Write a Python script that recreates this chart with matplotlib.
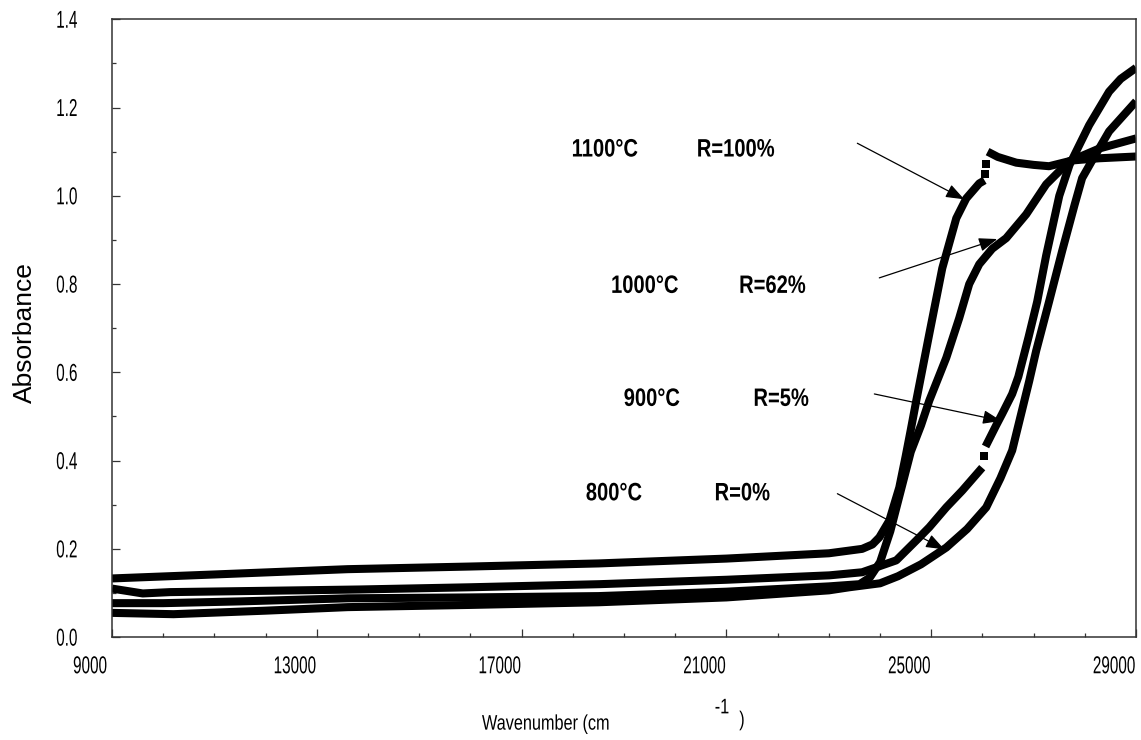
import matplotlib

matplotlib.use("Agg")
import matplotlib.pyplot as plt
from matplotlib import patheffects
from matplotlib.ticker import MultipleLocator
from matplotlib.transforms import Affine2D, ScaledTranslation

NARROW = ["Liberation Sans Narrow", "Liberation Sans", "DejaVu Sans"]
REGULAR = ["Liberation Sans", "DejaVu Sans"]

# 1100°C (R=100%): lower branch, dotted step, upper branch
WN_1100 = [9000, 11000, 13600, 16000, 18500, 21000, 23000, 23650, 23850, 23985,
           24180, 24375, 24500, 24600, 24707, 24961, 25215, 25488, 25683, 25937,
           26040]
ABS_1100 = [0.133, 0.142, 0.154, 0.160, 0.167, 0.178, 0.190, 0.200, 0.210, 0.226,
            0.264, 0.339, 0.410, 0.470, 0.536, 0.687, 0.836, 0.949, 0.994, 1.028,
            1.035]
WN_1100_STEP = [26055, 26075]
ABS_1100_STEP = [1.050, 1.072]
WN_1100_HI = [26100, 26300, 26660, 27000, 27300, 27750, 28280, 29000]
ABS_1100_HI = [1.100, 1.088, 1.075, 1.070, 1.067, 1.080, 1.085, 1.089]

# 1000°C (R=62%)
WN_1000 = [9000, 10000, 11500, 13600, 16000, 18500, 21000, 23000, 23600, 23800,
           24000, 24200, 24400, 24600, 24800, 24961, 25293, 25546, 25741, 25937,
           26190, 26463, 26854, 27244, 27693, 28278, 29000]
ABS_1000 = [0.077, 0.077, 0.081, 0.088, 0.090, 0.093, 0.103, 0.115, 0.120, 0.135,
            0.170, 0.240, 0.330, 0.420, 0.480, 0.536, 0.633, 0.723, 0.800, 0.845,
            0.880, 0.904, 0.958, 1.026, 1.078, 1.107, 1.130]

# 900°C (R=5%): lower branch, dotted step, upper branch
WN_900 = [9000, 9600, 10130, 12000, 13840, 16000, 18522, 21000, 23010, 23650,
          24317, 24707, 24961, 25293, 25605, 25995]
ABS_900 = [0.110, 0.099, 0.102, 0.105, 0.108, 0.113, 0.120, 0.130, 0.140, 0.147,
           0.174, 0.219, 0.249, 0.294, 0.332, 0.384]
WN_900_STEP = [26025]
ABS_900_STEP = [0.410]
WN_900_HI = [26060, 26268, 26385, 26580, 26700, 26900, 27068, 27244, 27500, 27700,
             28083, 28473, 28700, 29000]
ABS_900_HI = [0.432, 0.480, 0.506, 0.551, 0.590, 0.680, 0.760, 0.865, 1.000, 1.070,
              1.160, 1.236, 1.265, 1.290]

# 800°C (R=0%)
WN_800 = [9000, 10200, 12000, 13600, 16000, 18500, 21000, 23000, 23400, 24000,
          24350, 24800, 25293, 25700, 26073, 26350, 26580, 26912, 27049, 27300,
          27556, 27800, 27946, 28142, 28473, 29000]
ABS_800 = [0.055, 0.052, 0.060, 0.068, 0.073, 0.079, 0.090, 0.106, 0.113, 0.122,
           0.138, 0.165, 0.203, 0.245, 0.294, 0.360, 0.423, 0.580, 0.649, 0.760,
           0.875, 0.980, 1.040, 1.080, 1.146, 1.214]

# label text, label positions and arrow (tail, head)
TEMPS = ["1100°C", "1000°C", "900°C", "800°C"]
RATIOS = ["R=100%", "R=62%", "R=5%", "R=0%"]
TEMP_X = [18620, 19400, 19540, 18800]
RATIO_X = [21180, 21900, 22070, 21310]
LABEL_Y = [1.089, 0.780, 0.524, 0.310]
ARROW_FROM = [(23556, 1.119), (23985, 0.814), (23888, 0.551), (23166, 0.325)]
ARROW_TO = [(25644, 0.992), (26288, 0.902), (26366, 0.490), (25254, 0.199)]


class Stretch(patheffects.AbstractPathEffect):
    """Stretch text glyphs vertically about their baseline origin."""

    def __init__(self, sy):
        super().__init__()
        self.sy = sy

    def draw_path(self, renderer, gc, tpath, affine, rgbFace=None):
        ox, oy = affine.transform((0, 0))
        aff = affine + Affine2D().translate(-ox, -oy).scale(1, self.sy).translate(ox, oy)
        renderer.draw_path(gc, tpath, aff, rgbFace)


fig = plt.figure(figsize=(11.41, 7.40), dpi=100)
ax = fig.add_axes([0.0982, 0.139, 0.8975, 0.835])

kw = dict(color="black", lw=5.8, solid_capstyle="butt", solid_joinstyle="round")
ax.plot(WN_1100, ABS_1100, **kw)
ax.plot(WN_1100_HI, ABS_1100_HI, **kw)
ax.plot(WN_1100_STEP, ABS_1100_STEP, "s", color="black", ms=5.5, mew=0)
ax.plot(WN_1000, ABS_1000, **kw)
ax.plot(WN_900, ABS_900, **kw)
ax.plot(WN_900_HI, ABS_900_HI, **kw)
ax.plot(WN_900_STEP, ABS_900_STEP, "s", color="black", ms=5.5, mew=0)
ax.plot(WN_800, ABS_800, **kw)

ax.set_xlim(9000, 29000)
ax.set_ylim(0, 1.4)
ax.xaxis.set_major_locator(MultipleLocator(4000))
ax.xaxis.set_minor_locator(MultipleLocator(1000))
ax.yaxis.set_major_locator(MultipleLocator(0.2))
ax.yaxis.set_minor_locator(MultipleLocator(0.1))
ax.set_xticks(range(9000, 29001, 4000))
ax.set_xticklabels([str(v) for v in range(9000, 29001, 4000)])
ax.set_yticks([i * 0.2 for i in range(8)])
ax.set_yticklabels([f"{i * 0.2:.1f}" for i in range(8)])

for side in ax.spines.values():
    side.set_color("#333333")
    side.set_linewidth(1.1)
ax.tick_params(which="both", direction="in", color="#333333", width=0.9)
ax.tick_params(which="major", length=5.8)
ax.tick_params(which="minor", length=2.9)
ax.tick_params(axis="x", pad=26)
ax.tick_params(axis="y", pad=25)

stretch = [Stretch(1.6)]
x_shift = ScaledTranslation(-0.22, 0, fig.dpi_scale_trans)
y_shift = ScaledTranslation(0, -0.085, fig.dpi_scale_trans)
for lab in ax.get_xticklabels():
    lab.set_family(NARROW)
    lab.set_fontsize(11)
    lab.set_va("baseline")
    lab.set_path_effects(stretch)
    lab.set_transform(lab.get_transform() + x_shift)
for lab in ax.get_yticklabels():
    lab.set_family(NARROW)
    lab.set_fontsize(11)
    lab.set_va("baseline")
    lab.set_path_effects(stretch)
    lab.set_transform(lab.get_transform() + y_shift)

# temperature / rutile-fraction labels with arrows onto the curves
for temp, ratio, tx, rx, ly in zip(TEMPS, RATIOS, TEMP_X, RATIO_X, LABEL_Y):
    for s, x in ((temp, tx), (ratio, rx)):
        ax.text(x, ly, s, family=NARROW, fontsize=14.5, fontweight="bold",
                ha="center", va="baseline", path_effects=[Stretch(1.25)])
for p0, p1 in zip(ARROW_FROM, ARROW_TO):
    ax.annotate("", xy=p1, xytext=p0,
                arrowprops=dict(arrowstyle="-|>,head_length=0.8,head_width=0.3",
                                color="black", lw=0.9, shrinkA=0, shrinkB=0,
                                mutation_scale=14))

fig.text(0.0219, 0.55, "Absorbance", family=REGULAR, fontsize=19,
         rotation=90, ha="center", va="center")
unit_fx = [Stretch(1.3)]
fig.text(0.4224, 0.014, "Wavenumber (cm", family=NARROW, fontsize=11.7,
         ha="left", va="baseline", path_effects=unit_fx)
fig.text(0.6328, 0.036, "-1", family=NARROW, fontsize=11.7,
         ha="center", va="baseline", path_effects=unit_fx)
fig.text(0.6503, 0.019, ")", family=NARROW, fontsize=11.7,
         ha="center", va="baseline", path_effects=unit_fx)

fig.savefig("out.png", dpi=100)
